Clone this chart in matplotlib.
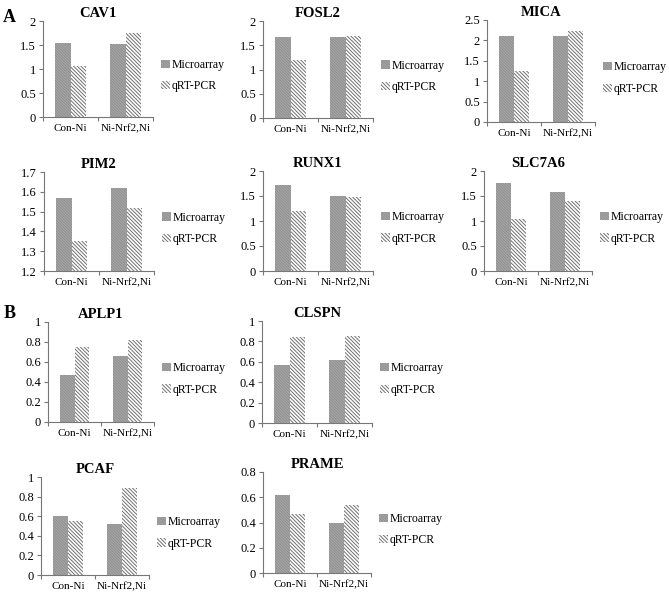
import matplotlib.pyplot as plt

plt.rcParams['font.family'] = ['Liberation Serif', 'DejaVu Serif']
plt.rcParams['hatch.linewidth'] = 0.7

W, H = 669, 597

groups = ['Con-Ni', 'Ni-Nrf2,Ni']
series = ['Microarray', 'qRT-PCR']

genes = ['CAV1', 'FOSL2', 'MICA', 'PIM2', 'RUNX1', 'SLC7A6',
         'APLP1', 'CLSPN', 'PCAF', 'PRAME']

# values per gene: [Con-Ni, Ni-Nrf2,Ni]
microarray = {
    'CAV1': [1.55, 1.53],
    'FOSL2': [1.68, 1.68],
    'MICA': [2.11, 2.11],
    'PIM2': [1.57, 1.62],
    'RUNX1': [1.73, 1.51],
    'SLC7A6': [1.77, 1.58],
    'APLP1': [0.47, 0.66],
    'CLSPN': [0.57, 0.62],
    'PCAF': [0.60, 0.52],
    'PRAME': [0.62, 0.40],
}
qrtpcr = {
    'CAV1': [1.07, 1.74],
    'FOSL2': [1.19, 1.70],
    'MICA': [1.25, 2.24],
    'PIM2': [1.35, 1.52],
    'RUNX1': [1.21, 1.48],
    'SLC7A6': [1.05, 1.40],
    'APLP1': [0.75, 0.82],
    'CLSPN': [0.84, 0.85],
    'PCAF': [0.55, 0.89],
    'PRAME': [0.47, 0.54],
}
# y axis: (min, max, step)
yaxis = {
    'CAV1': (0, 2, 0.5),
    'FOSL2': (0, 2, 0.5),
    'MICA': (0, 2.5, 0.5),
    'PIM2': (1.2, 1.7, 0.1),
    'RUNX1': (0, 2, 0.5),
    'SLC7A6': (0, 2, 0.5),
    'APLP1': (0, 1, 0.2),
    'CLSPN': (0, 1, 0.2),
    'PCAF': (0, 1, 0.2),
    'PRAME': (0, 0.8, 0.2),
}

# axes boxes in pixels: left, top, width, height
boxes = {
    'CAV1': (43, 21, 110, 96),
    'FOSL2': (263, 21, 110, 97),
    'MICA': (487, 20, 108, 102),
    'PIM2': (44, 172, 110, 99),
    'RUNX1': (263, 171, 110, 100),
    'SLC7A6': (484, 171, 108, 100),
    'APLP1': (48, 322, 106, 100),
    'CLSPN': (262, 321, 110, 102),
    'PCAF': (41, 477, 108, 98),
    'PRAME': (263, 472, 108, 101),
}

fig = plt.figure(figsize=(W / 100, H / 100), dpi=100)

def fmt(v):
    return '%g' % round(v, 2)

bw = 0.28
for g in genes:
    l, t, w, h = boxes[g]
    ax = fig.add_axes([l / W, 1 - (t + h) / H, w / W, h / H])
    x = range(len(groups))
    ax.bar([i - bw / 2 for i in x], microarray[g], bw, color='#a9a9a9',
           edgecolor='#8e8e8e', hatch='\\' * 12, lw=0, label=series[0])
    ax.bar([i + bw / 2 for i in x], qrtpcr[g], bw, color='white',
           edgecolor='#707070', hatch='\\' * 9, lw=0, label=series[1])
    lo, hi, st = yaxis[g]
    ax.set_ylim(lo, hi)
    n = int(round((hi - lo) / st))
    ticks = [lo + k * st for k in range(n + 1)]
    ax.set_yticks(ticks)
    ax.set_yticklabels([fmt(v) for v in ticks], fontsize=9)
    ax.set_xlim(-0.5, 1.5)
    ax.set_xticks([0, 1])
    ax.set_xticklabels(groups, fontsize=8)
    ax.tick_params(axis='x', length=0, pad=5)
    ax.tick_params(axis='y', length=3, width=0.8, pad=2, color='#777')
    # excel style boundary ticks
    ax.set_xticks([-0.5, 0.5, 1.5], minor=True)
    ax.tick_params(axis='x', which='minor', length=3, width=0.8, color='#777')
    for s in ['top', 'right']:
        ax.spines[s].set_visible(False)
    for s in ['left', 'bottom']:
        ax.spines[s].set_color('#777')
        ax.spines[s].set_linewidth(0.8)
    ax.set_title(g, fontsize=10.5, fontweight='bold', pad=3)
    ax.legend(loc='center left', bbox_to_anchor=(1.0, 0.43), frameon=False,
              fontsize=8.5, handlelength=0.7, handleheight=0.7,
              handletextpad=0.2, labelspacing=0.8, borderpad=0.2)

fig.text(3 / W, 1 - 22 / H, 'A', fontsize=13, fontweight='bold')
fig.text(4 / W, 1 - 318 / H, 'B', fontsize=13, fontweight='bold')

fig.savefig('out.png', dpi=100)
